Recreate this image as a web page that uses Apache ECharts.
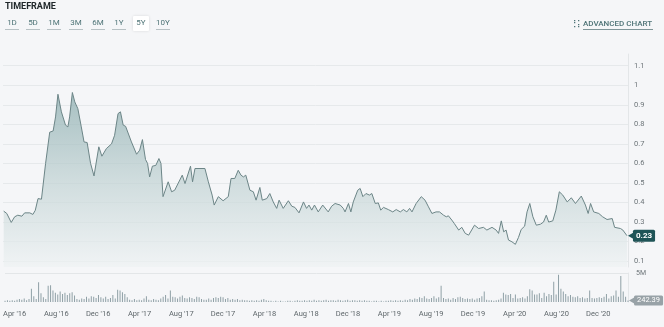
<!DOCTYPE html>
<html>
<head>
<meta charset="utf-8">
<script src="https://cdn.jsdelivr.net/npm/echarts@6/dist/echarts.min.js"></script>
<style>
html,body{margin:0;padding:0;background:#f5f6f8;}
#chart{width:664px;height:327px;}
</style>
</head>
<body>
<div id="chart"></div>
<script>
// ---- Price data (date, close) ----
const dates2016 = ['2016-03-06','2016-03-15','2016-03-28','2016-04-07','2016-04-16','2016-04-21','2016-04-28','2016-05-06','2016-05-21','2016-05-30','2016-06-06','2016-06-14','2016-06-24','2016-06-28','2016-07-06','2016-07-18','2016-07-28','2016-08-04','2016-08-11','2016-08-21','2016-09-02','2016-09-09','2016-09-14','2016-09-22','2016-09-29','2016-10-08','2016-10-18','2016-10-26','2016-11-04','2016-11-14','2016-11-24','2016-12-08','2016-12-17','2016-12-30'];
const values2016 = [0.356,0.344,0.298,0.327,0.335,0.344,0.33,0.347,0.347,0.339,0.36,0.42,0.417,0.417,0.60,0.76,0.766,0.838,0.954,0.864,0.796,0.787,0.838,0.963,0.915,0.88,0.787,0.71,0.707,0.60,0.536,0.685,0.637,0.676];
const dates2017 = ['2017-01-14','2017-01-23','2017-02-02','2017-02-09','2017-02-17','2017-02-24','2017-03-13','2017-03-28','2017-04-06','2017-04-14','2017-04-23','2017-04-29','2017-05-05','2017-05-13','2017-05-23','2017-06-01','2017-06-07','2017-06-13','2017-06-28','2017-07-08','2017-07-17','2017-08-08','2017-08-16','2017-09-01','2017-09-07','2017-09-14','2017-10-13','2017-10-23','2017-11-03','2017-11-09','2017-11-21','2017-12-05','2017-12-20','2017-12-28'];
const values2017 = [0.70,0.744,0.855,0.864,0.796,0.79,0.71,0.647,0.668,0.722,0.62,0.60,0.531,0.586,0.59,0.625,0.60,0.43,0.506,0.455,0.463,0.54,0.497,0.586,0.506,0.574,0.574,0.506,0.438,0.387,0.43,0.409,0.43,0.523];
const dates2018 = ['2018-01-08','2018-01-18','2018-01-26','2018-02-02','2018-02-09','2018-02-21','2018-03-03','2018-03-11','2018-03-22','2018-03-29','2018-04-11','2018-04-20','2018-04-30','2018-05-10','2018-05-17','2018-05-29','2018-06-13','2018-06-23','2018-07-02','2018-07-14','2018-07-27','2018-08-05','2018-08-12','2018-08-20','2018-08-28','2018-09-08','2018-09-21','2018-10-07','2018-10-17','2018-10-27','2018-11-11','2018-11-20','2018-11-25','2018-12-05','2018-12-12','2018-12-19'];
const values2018 = [0.523,0.565,0.54,0.531,0.54,0.463,0.455,0.412,0.477,0.412,0.42,0.446,0.403,0.37,0.412,0.37,0.409,0.381,0.375,0.347,0.403,0.37,0.387,0.361,0.387,0.352,0.387,0.352,0.381,0.395,0.387,0.37,0.352,0.395,0.352,0.403];
const dates2019 = ['2019-01-01','2019-01-08','2019-01-16','2019-01-25','2019-02-04','2019-02-11','2019-02-21','2019-03-02','2019-03-09','2019-03-17','2019-03-31','2019-04-13','2019-04-23','2019-05-05','2019-05-14','2019-05-24','2019-06-01','2019-06-08','2019-06-20','2019-07-05','2019-07-16','2019-07-26','2019-08-05','2019-08-17','2019-08-27','2019-09-08','2019-09-16','2019-09-22','2019-10-02','2019-10-09','2019-10-22','2019-10-31','2019-11-10','2019-11-20','2019-12-07','2019-12-19'];
const values2019 = [0.463,0.472,0.43,0.446,0.438,0.446,0.395,0.398,0.361,0.375,0.364,0.352,0.364,0.352,0.364,0.352,0.37,0.352,0.395,0.43,0.412,0.378,0.344,0.352,0.352,0.335,0.327,0.332,0.31,0.293,0.259,0.273,0.242,0.233,0.284,0.267];
const dates2020 = ['2020-01-02','2020-01-12','2020-01-27','2020-02-08','2020-02-15','2020-02-23','2020-03-01','2020-03-08','2020-03-15','2020-03-25','2020-04-04','2020-04-13','2020-04-21','2020-05-01','2020-05-08','2020-05-16','2020-05-25','2020-06-04','2020-06-16','2020-06-25','2020-07-03','2020-07-10','2020-07-22','2020-07-31','2020-08-10','2020-08-20','2020-09-02','2020-09-14','2020-09-26','2020-10-13','2020-10-25','2020-11-02','2020-11-09','2020-11-18','2020-12-03','2020-12-14','2020-12-27'];
const values2020 = [0.273,0.259,0.273,0.259,0.242,0.306,0.25,0.259,0.208,0.199,0.186,0.221,0.262,0.279,0.352,0.395,0.327,0.284,0.289,0.30,0.335,0.30,0.306,0.361,0.455,0.438,0.403,0.424,0.395,0.433,0.387,0.344,0.395,0.352,0.344,0.327,0.313];
const dates2021 = ['2021-01-11','2021-01-18','2021-02-04','2021-02-11','2021-02-23'];
const values2021 = [0.318,0.273,0.267,0.259,0.23];

// ---- Weekly volume (millions), first week starting 2016-03-04 ----
const volumeStart = '2016-03-04';
const volumeM = [
 0.2,0.3,0.2,0.3,0.2,0.4,0.5,0.4,0.6,0.3,0.5,2.3,1.0,0.5,3.4,1.5,0.8,0.5,2.8,2.9,
 2.0,1.6,1.3,1.8,1.4,1.6,1.2,1.5,1.7,1.1,0.5,0.4,0.6,0.5,0.9,0.6,1.0,0.9,0.7,1.2,
 0.8,0.6,0.9,0.5,0.7,1.2,0.6,2.1,2.0,1.7,1.4,0.8,0.4,0.3,0.5,0.3,0.4,0.3,0.6,1.0,
 0.4,0.3,0.5,0.4,0.3,0.6,0.9,1.2,0.6,2.0,0.9,0.8,0.6,0.9,1.1,0.7,0.6,0.8,0.7,0.5,
 0.9,0.8,0.5,0.4,0.4,0.6,0.4,0.7,0.8,0.7,0.9,0.8,0.5,0.7,0.4,0.5,0.4,0.5,0.3,0.4,
 0.3,0.3,0.2,0.3,0.2,0.3,0.2,0.4,0.5,0.3,0.2,0.2,0.1,0.2,0.1,0.2,0.1,0.1,0.2,0.2,
 0.1,0.2,0.3,0.2,0.2,0.3,0.2,0.3,0.2,0.4,0.2,0.3,0.2,0.3,0.4,0.2,0.3,0.3,0.2,0.4,
 0.3,0.2,0.3,0.4,0.2,0.3,0.3,0.2,0.3,0.2,0.3,0.2,0.2,0.1,0.2,0.2,0.1,0.2,0.1,0.2,
 0.2,0.3,0.2,0.3,0.2,0.3,0.2,0.4,0.3,0.5,0.4,0.6,0.5,0.8,0.7,1.0,0.6,0.5,0.7,1.0,
 0.6,0.8,2.8,0.7,0.5,0.6,0.4,0.7,0.5,0.8,0.9,0.7,0.5,0.6,0.5,0.6,0.4,0.6,0.7,1.0,
 1.8,0.4,0.3,0.3,0.2,0.3,0.4,0.6,1.6,1.3,1.2,1.4,0.7,1.3,0.6,0.7,0.8,0.6,1.0,2.2,
 2.0,1.3,1.3,1.5,0.7,1.6,1.0,1.4,1.2,3.5,1.3,4.7,2.3,1.8,1.4,1.0,1.2,0.9,0.8,1.0,
 0.7,0.8,0.6,0.7,2.0,0.7,0.6,0.7,0.8,0.7,0.9,1.4,0.6,1.0,1.1,2.0,0.9,4.5,1.8,0.9,
 0.24239
];
const lastVolumeLabel = '242.39';
const lastPriceLabel = '0.23';

// ---- Axis labels ----
const xTickMonths = ['2016-04-01','2016-08-01','2016-12-01','2017-04-01','2017-08-01','2017-12-01','2018-04-01','2018-08-01','2018-12-01','2019-04-01','2019-08-01','2019-12-01','2020-04-01','2020-08-01','2020-12-01'];
const yTicks = [0.1,0.2,0.3,0.4,0.5,0.6,0.7,0.8,0.9,1,1.1];
const timeframes = ['1D','5D','1M','3M','6M','1Y','5Y','10Y'];
const activeTimeframe = '5Y';
const monthNames = ['Jan','Feb','Mar','Apr','May','Jun','Jul','Aug','Sep','Oct','Nov','Dec'];

// ---- Build ----
const ts = (d)=> new Date(d + 'T00:00:00Z').getTime();
const priceDates = [].concat(dates2016,dates2017,dates2018,dates2019,dates2020,dates2021);
const priceValues = [].concat(values2016,values2017,values2018,values2019,values2020,values2021);
const priceData = priceDates.map((d,i)=>[ts(d), priceValues[i]]);
const dayMs = 86400000;
const vStart = ts(volumeStart);
const volumeData = volumeM.map((v,i)=>[vStart + i*7*dayMs, v]);
const xMin = vStart;
const xMax = vStart + (volumeM.length-1)*7*dayMs;
const tickTs = xTickMonths.map(ts);
const lastPrice = priceData[priceData.length-1];
const lastVol = volumeData[volumeData.length-1];
const fmtMonth = (v)=>{const d=new Date(v); return monthNames[d.getUTCMonth()]+" '"+String(d.getUTCFullYear()).slice(2);};

const chart = echarts.init(document.getElementById('chart'), null, {renderer:'canvas'});

const FONT = 'Roboto';
const teal = '#4f7477';
const graphics = [];
graphics.push({type:'text', left:5, top:2, style:{text:'TIMEFRAME', font:'bold 9px Roboto', fill:'#20282b'}});
const tfX = [12,33,54,76,98,119,141,163];
timeframes.forEach((t,i)=>{
  if (t === activeTimeframe) {
    graphics.push({type:'rect', shape:{x:tfX[i]-8, y:16, width:16, height:15, r:1},
      style:{fill:'#ffffff', shadowBlur:3, shadowColor:'rgba(0,0,0,0.12)'}});
  } else {
    graphics.push({type:'line', shape:{x1:tfX[i]-7, y1:29.5, x2:tfX[i]+7, y2:29.5}, style:{stroke:'#b7c1c4', lineWidth:1}});
  }
  graphics.push({type:'text', x:tfX[i], y:23, style:{text:t, font:'8px Roboto', fill:teal, align:'center', verticalAlign:'middle'}});
});
graphics.push({type:'text', x:583, y:23.5, style:{text:'ADVANCED CHART', font:'500 8px Roboto', fill:teal, verticalAlign:'middle'}});
graphics.push({type:'line', shape:{x1:583, y1:29.5, x2:653, y2:29.5}, style:{stroke:'#7e9598', lineWidth:1}});
[[574,20],[578,20],[574,26],[578,26],[574,22],[578,24]].forEach(p=>{
  graphics.push({type:'rect', shape:{x:p[0], y:p[1], width:1.3, height:1.3}, style:{fill:teal}});
});

const option = {
  backgroundColor:'#f5f6f8',
  animation:false,
  textStyle:{fontFamily:FONT},
  graphic: graphics,
  grid:[
    {left:3, right:36, top:54, height:213},
    {left:3, right:36, top:273, height:29}
  ],
  xAxis:[
    {type:'value', gridIndex:0, min:xMin, max:xMax, axisLine:{show:false}, axisTick:{show:false}, axisLabel:{show:false}, splitLine:{show:false}},
    {type:'value', gridIndex:1, min:xMin, max:xMax,
     axisLine:{show:false}, axisTick:{show:false, customValues:tickTs}, splitLine:{show:false},
     axisLabel:{customValues:tickTs, color:'#5f676b', fontSize:7.5, margin:8, showMinLabel:true, showMaxLabel:true, formatter:fmtMonth}}
  ],
  yAxis:[
    {type:'value', gridIndex:0, position:'right', min:0.07, max:1.16,
     axisLine:{show:true, lineStyle:{color:'#e3e6e8'}},
     axisTick:{show:false, customValues:yTicks},
     axisLabel:{customValues:yTicks, color:'#6d7579', fontSize:7.5, margin:6, formatter:(v)=>String(+(+v).toFixed(2))},
     splitLine:{show:true, lineStyle:{color:'#e6e9eb', width:1}}},
    {type:'value', gridIndex:1, position:'right', min:0, max:5,
     axisLine:{show:true, lineStyle:{color:'#e3e6e8'}},
     axisTick:{show:false, customValues:[5]},
     axisLabel:{customValues:[5], color:'#6d7579', fontSize:7, margin:8, formatter:()=> '5M'},
     splitLine:{show:true, lineStyle:{color:'#e3e6e8'}}}
  ],
  series:[
    {type:'line', xAxisIndex:0, yAxisIndex:0, data:priceData, symbol:'none', smooth:false,
     lineStyle:{color:'#6c8587', width:1},
     areaStyle:{origin:'start', color:new echarts.graphic.LinearGradient(0,0,0,1,[
       {offset:0, color:'#86a9ab'},{offset:0.5, color:'#bfd1d2'},{offset:1, color:'#eef2f3'}])},
     markPoint:{symbol:'triangle', symbolSize:[7,6], symbolRotate:90, symbolOffset:[4,0], silent:true,
       itemStyle:{color:'#1f5457'},
       label:{show:true, position:'right', distance:-1, formatter:lastPriceLabel, color:'#fff', fontWeight:'bold', fontSize:8,
         backgroundColor:'#1f5457', padding:[2,3,2,3], borderRadius:1.5},
       data:[{coord:lastPrice}]}
    },
    {type:'bar', xAxisIndex:1, yAxisIndex:1, data:volumeData, barWidth:1,
     itemStyle:{color:'#8fa0a6'},
     markPoint:{symbol:'triangle', symbolSize:[7,6], symbolRotate:90, symbolOffset:[4,0], silent:true,
       itemStyle:{color:'#98a2a7'},
       label:{show:true, position:'right', distance:-1, formatter:lastVolumeLabel, color:'#fff', fontSize:7.5,
         backgroundColor:'#98a2a7', padding:[1,3,1,3], borderRadius:1.5},
       data:[{coord:lastVol}]}
    }
  ]
};
chart.setOption(option);
</script>
</body>
</html>
